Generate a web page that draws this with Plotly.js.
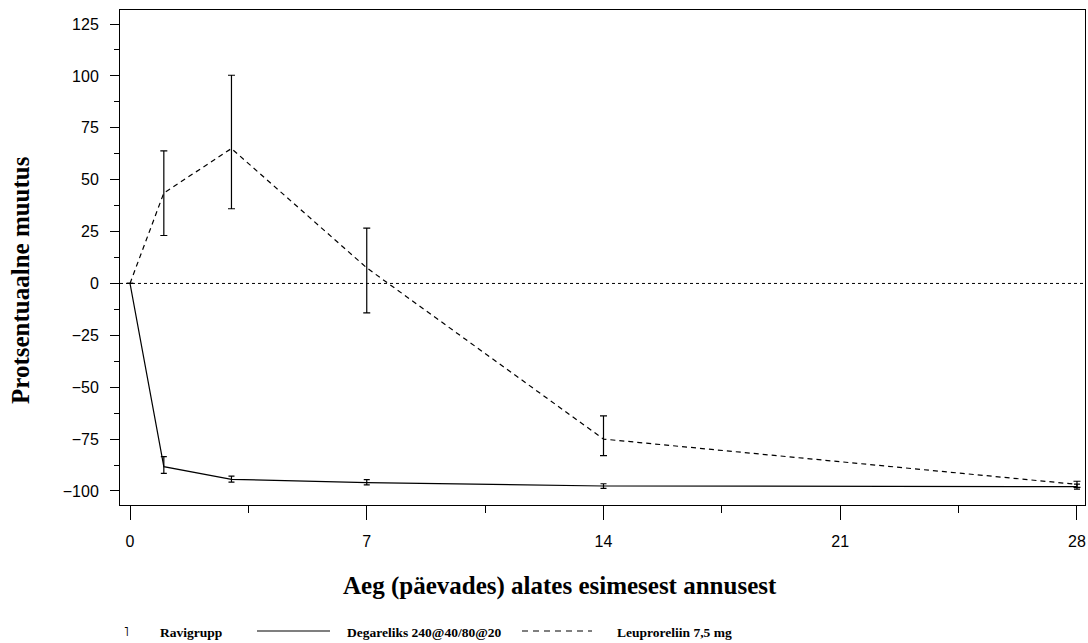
<!DOCTYPE html>
<html>
<head>
<meta charset="utf-8">
<script src="https://cdn.plot.ly/plotly-3.0.1.min.js"></script>
<style>html,body{margin:0;padding:0;background:#fff;}#chart{width:1088px;height:643px;}</style>
</head>
<body>
<div id="chart"></div>
<script>
// ---- data ----
const days = [0, 1, 3, 7, 14, 28];
const degarelixMean = [0, -88.3, -94.4, -96.0, -97.6, -97.9];
const degarelixErrPlus = [0, 4.9, 1.6, 1.5, 1.1, 1.2];
const degarelixErrMinus = [0, 3.2, 1.3, 1.1, 1.1, 1.2];
const leuprolideMean = [0, 43.6, 65.0, 7.5, -75.0, -96.8];
const leuprolideErrPlus = [0, 20.3, 35.3, 19.2, 11.2, 1.5];
const leuprolideErrMinus = [0, 20.5, 29.0, 21.7, 8.0, 1.5];
const seriesNames = ["Degareliks 240@40/80@20", "Leuproreliin 7,5 mg"];
const legendTitle = "Ravigrupp";
const xTickVals = [0, 7, 14, 21, 28];
const yTickVals = [-100, -75, -50, -25, 0, 25, 50, 75, 100, 125];
const referenceValue = 0;
const xTitle = "Aeg (päevades) alates esimesest annusest";
const yTitle = "Protsentuaalne muutus";

const serif = "Liberation Serif, Times New Roman, serif";
const sans = "Liberation Sans, Arial, sans-serif";

const traces = [
  {
    x: days, y: degarelixMean, name: seriesNames[0], type: "scatter", mode: "lines",
    line: {color: "#000", width: 1.2},
    error_y: {type: "data", symmetric: false, array: degarelixErrPlus, arrayminus: degarelixErrMinus,
      color: "#000", thickness: 1.2, width: 3},
    showlegend: false
  },
  {
    x: days, y: leuprolideMean, name: seriesNames[1], type: "scatter", mode: "lines",
    line: {color: "#000", width: 1.2, dash: "5px,4px"},
    error_y: {type: "data", symmetric: false, array: leuprolideErrPlus, arrayminus: leuprolideErrMinus,
      color: "#000", thickness: 1.2, width: 3.5},
    showlegend: false
  }
];

const legY = 632;
function px(x){ return (x - 120) / 965; }
function py(y){ return 1 - (y - 10) / 495; }

const layout = {
  width: 1088, height: 643,
  paper_bgcolor: "#fff", plot_bgcolor: "#fff",
  margin: {l: 120, r: 3, t: 10, b: 138},
  showlegend: false,
  xaxis: {
    range: [-0.296, 28.237],
    tickvals: xTickVals, ticktext: xTickVals.map(String),
    ticks: "outside", ticklen: 14, tickwidth: 1, tickcolor: "#000",
    minor: {dtick: 3.5, tick0: 0, ticks: "outside", ticklen: 7, tickcolor: "#000", tickwidth: 1, showgrid: false},
    showline: true, linecolor: "#000", linewidth: 1, mirror: true,
    showgrid: false, zeroline: false,
    tickfont: {family: sans, size: 16, color: "#000"},
    ticklabelstandoff: 8
  },
  yaxis: {
    range: [-106.75, 131.75],
    tickvals: yTickVals, ticktext: yTickVals.map(v => v < 0 ? "\u2212" + Math.abs(v) : String(v)),
    ticks: "outside", ticklen: 9, tickwidth: 1, tickcolor: "#000",
    minor: {dtick: 12.5, tick0: 0, ticks: "outside", ticklen: 5, tickcolor: "#000", tickwidth: 1, showgrid: false},
    showline: true, linecolor: "#000", linewidth: 1, mirror: true,
    showgrid: false, zeroline: false,
    tickfont: {family: sans, size: 16, color: "#000"},
    ticklabelstandoff: 8
  },
  shapes: [
    {type: "line", xref: "paper", x0: 0, x1: 1, yref: "y", y0: referenceValue, y1: referenceValue,
     line: {color: "#000", width: 1, dash: "3px,3px"}, layer: "below"},
    {type: "line", xref: "paper", yref: "paper", x0: px(257), x1: px(330),
     y0: py(legY - 1), y1: py(legY - 1), line: {color: "#000", width: 1.2}},
    {type: "line", xref: "paper", yref: "paper", x0: px(522), x1: px(592),
     y0: py(legY - 1), y1: py(legY - 1), line: {color: "#000", width: 1.2, dash: "6px,5px"}}
  ],
  annotations: [
    {text: "<b>" + xTitle + "</b>", xref: "paper", yref: "paper", x: px(560), y: py(586),
     showarrow: false, xanchor: "center", yanchor: "middle", font: {family: serif, size: 25, color: "#000"}},
    {text: "<b>" + yTitle + "</b>", xref: "paper", yref: "paper", x: px(20), y: py(280),
     showarrow: false, xanchor: "center", yanchor: "middle", textangle: -90, font: {family: serif, size: 25, color: "#000"}},
    {text: "\u02E5", xref: "paper", yref: "paper", x: px(126), y: py(632),
     showarrow: false, xanchor: "center", yanchor: "middle", font: {family: serif, size: 12, color: "#000"}},
    {text: "<b>" + legendTitle + "</b>", xref: "paper", yref: "paper", x: px(158), y: py(legY),
     showarrow: false, xanchor: "left", yanchor: "middle", font: {family: serif, size: 13.5, color: "#000"}},
    {text: "<b>" + seriesNames[0] + "</b>", xref: "paper", yref: "paper", x: px(345), y: py(legY),
     showarrow: false, xanchor: "left", yanchor: "middle", font: {family: serif, size: 13.5, color: "#000"}},
    {text: "<b>" + seriesNames[1] + "</b>", xref: "paper", yref: "paper", x: px(615), y: py(legY),
     showarrow: false, xanchor: "left", yanchor: "middle", font: {family: serif, size: 13.5, color: "#000"}}
  ]
};

Plotly.newPlot("chart", traces, layout, {displayModeBar: false, staticPlot: true});
</script>
</body>
</html>
